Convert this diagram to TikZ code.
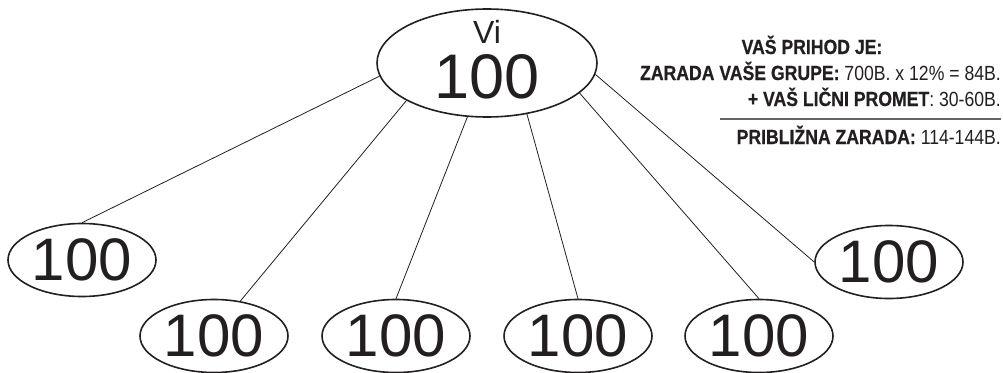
\documentclass[tikz,border=0pt]{standalone}
\usepackage{fontspec}
\setmainfont{Liberation Sans}
\newfontfamily\condfont[FakeStretch=0.86, BoldFeatures={FakeBold=0.6}]{Liberation Sans}
\usepackage{tikz}
\usetikzlibrary{shapes}
\usetikzlibrary{positioning}
\definecolor{ink}{RGB}{35,31,32}
\tikzset{
    member/.style={ellipse, draw=ink, text=ink, line width=1.6pt, minimum width=148pt,
        minimum height=73pt, inner sep=0pt, font=\fontsize{60}{60}\selectfont},
    sponsor/.style={ellipse, draw=ink, line width=1.6pt, minimum width=220pt,
        minimum height=108pt, inner sep=0pt},
    link/.style={draw=ink, line width=0.8pt},
    rule/.style={draw=black!60, line width=1.2pt},
    income/.style={text=ink, inner sep=0pt, font=\condfont\fontsize{20.5}{20.5}\selectfont},
}

\begin{document}
\begin{tikzpicture}[x=1pt, y=1pt]
	\useasboundingbox (0,0) rectangle (1003,-372);
	% you
	\node[sponsor] (vi) at (487,-63) {};
	\node[text=ink, inner sep=0pt, anchor=base, font=\fontsize{32}{32}\selectfont] (vilabel) at (487,-43) {Vi};
	\node[text=ink, inner sep=0pt, anchor=base, font=\fontsize{63}{63}\selectfont] (vinum) at (487,-98) {100};
	% your group
	\node[member] (m1) at (82,-260) {100};
	\node[member] (m2) at (214,-336) {100};
	\node[member] (m3) at (396,-336) {100};
	\node[member] (m4) at (578,-336) {100};
	\node[member] (m5) at (759,-336) {100};
	\node[member] (m6) at (889,-262) {100};
	\draw[link] (vi.187) -- (m1.north);
	\draw[link] (vi.205) -- (m2.53);
	\draw[link] (vi.250) -- (m3.north);
	\draw[link] (vi.308) -- (m4.north);
	\draw[link] (vi.342) -- (m5.north);
	\draw[link] (vi.354) -- (m6.west);
	% income
	\node[income, anchor=base] (inc1) at (812,-54) {\textbf{VAŠ PRIHOD JE:}};
	\node[income, anchor=base east] (inc2) at (1001,-80) {\textbf{ZARADA VAŠE GRUPE:} 700B. x 12\% = 84B.};
	\node[income, anchor=base east] (inc3) at (1001,-106) {\textbf{+ VAŠ LIČNI PROMET}: 30-60B.};
	\coordinate (rulel) at (720,-119);
	\coordinate (ruler) at (1001,-119);
	\draw[rule] (rulel) -- (ruler);
	\node[income, anchor=base east] (inc4) at (1001,-144) {\textbf{PRIBLIŽNA ZARADA:} 114-144B.};
\end{tikzpicture}
\end{document}
